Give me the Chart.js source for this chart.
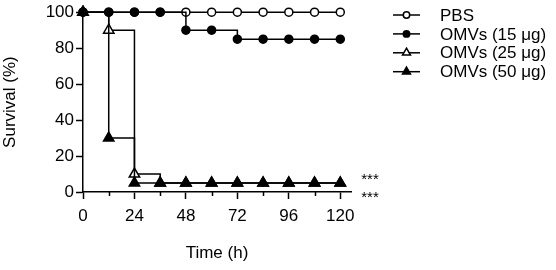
<!DOCTYPE html>
<html>
<head>
<meta charset="utf-8">
<script src="https://cdn.jsdelivr.net/npm/chart.js@4/dist/chart.umd.min.js"></script>
<style>
    html, body { margin: 0; padding: 0; background: #fff; }
    #wrap { width: 556px; height: 270px; }
</style>
</head>
<body>
<div id="wrap"><canvas id="myChart" width="556" height="270"></canvas></div>
<script>
const hours = [0, 12, 24, 36, 48, 60, 72, 84, 96, 108, 120];
const pbs = [100, 100, 100, 100, 100, 100, 100, 100, 100, 100, 100];
const omv15 = [100, 100, 100, 100, 90, 90, 85, 85, 85, 85, 85];
const omv25 = [100, 90, 10, 5, 5, 5, 5, 5, 5, 5, 5];
const omv50 = [100, 30, 5, 5, 5, 5, 5, 5, 5, 5, 5];
const seriesNames = ['PBS', 'OMVs (15 μg)', 'OMVs (25 μg)', 'OMVs (50 μg)'];
const yTicks = [0, 20, 40, 60, 80, 100];
const xLabelEvery = 24;
// levels where the *** marks sit
const starLevels = [10, 0];

const FONT = '"Liberation Sans", Arial, sans-serif';

function points(values) {
    return hours.map((h, i) => ({ x: h, y: values[i] }));
}

function series(label, values, style, fillColor, radius, order) {
    return {
        label: label,
        data: points(values),
        borderColor: '#000',
        borderWidth: 1.5,
        stepped: true,
        fill: false,
        pointStyle: style,
        pointRadius: radius,
        pointBackgroundColor: fillColor,
        pointBorderColor: '#000',
        pointBorderWidth: 1.5,
        clip: false,
        order: order
    };
}

// short ticks for the unlabelled hours, long ones for the labelled
const minorTicks = {
    id: 'minorTicks',
    afterDraw(chart) {
        const ctx = chart.ctx;
        const x = chart.scales.x;
        ctx.save();
        ctx.strokeStyle = '#000';
        ctx.lineWidth = 1.5;
        hours.forEach((h) => {
            if (h % xLabelEvery === 0) return;
            const px = Math.round(x.getPixelForValue(h)) + 0.5;
            ctx.beginPath();
            ctx.moveTo(px, x.top);
            ctx.lineTo(px, x.top + 4);
            ctx.stroke();
        });
        ctx.restore();
    }
};

const stars = {
    id: 'stars',
    afterDraw(chart) {
        const ctx = chart.ctx;
        const x = chart.scales.x;
        const y = chart.scales.y;
        ctx.save();
        ctx.fillStyle = '#000';
        ctx.font = '15px ' + FONT;
        ctx.textAlign = 'left';
        ctx.textBaseline = 'alphabetic';
        starLevels.forEach((v) => {
            ctx.fillText('***', x.getPixelForValue(120) + 21, y.getPixelForValue(v) + 9.5);
        });
        ctx.restore();
    }
};

const lineLegend = {
    id: 'lineLegend',
    afterDraw(chart) {
        const ctx = chart.ctx;
        const sizes = { circle: 3.2, triangle: 4.6 };
        ctx.save();
        chart.data.datasets.forEach((ds, i) => {
            const cy = 15 + i * 18.9;
            ctx.strokeStyle = '#000';
            ctx.lineWidth = 1.5;
            ctx.beginPath();
            ctx.moveTo(393, cy);
            ctx.lineTo(420, cy);
            ctx.stroke();
            ctx.fillStyle = ds.pointBackgroundColor;
            Chart.helpers.drawPoint(ctx, {
                pointStyle: ds.pointStyle,
                radius: sizes[ds.pointStyle],
                rotation: 0,
                borderWidth: 1.3
            }, 406.5, cy);
            ctx.fillStyle = '#000';
            ctx.font = '17px ' + FONT;
            ctx.textAlign = 'left';
            ctx.textBaseline = 'middle';
            ctx.fillText(ds.label, 440, cy + 1);
        });
        ctx.restore();
    }
};

const ctx = document.getElementById('myChart').getContext('2d');
const myChart = new Chart(ctx, {
    type: 'line',
    data: {
        datasets: [
            series(seriesNames[0], pbs, 'circle', '#fff', 4, 4),
            series(seriesNames[1], omv15, 'circle', '#000', 4, 3),
            series(seriesNames[2], omv25, 'triangle', '#fff', 6, 2),
            series(seriesNames[3], omv50, 'triangle', '#000', 6, 1)
        ]
    },
    options: {
        responsive: false,
        animation: false,
        devicePixelRatio: 1,
        events: [],
        layout: { padding: { left: 0, top: 12, right: 205, bottom: 0 } },
        plugins: {
            legend: { display: false },
            tooltip: { enabled: false }
        },
        scales: {
            x: {
                type: 'linear',
                min: 0,
                max: 125,
                afterBuildTicks: (s) => { s.ticks = hours.map((h) => ({ value: h })); },
                afterFit: (s) => { s.height = 78; },
                ticks: {
                    autoSkip: false,
                    maxRotation: 0,
                    padding: 7,
                    color: '#000',
                    font: { family: FONT, size: 17 },
                    callback: (v) => (v % xLabelEvery === 0 ? v : '')
                },
                grid: {
                    display: true,
                    drawOnChartArea: false,
                    drawTicks: true,
                    tickLength: 7,
                    tickWidth: 1.5,
                    tickColor: (c) => (c.tick && c.tick.value % xLabelEvery === 0 ? '#000' : 'rgba(0,0,0,0)')
                },
                border: { display: true, color: '#000', width: 1.5 },
                title: {
                    display: true,
                    text: 'Time (h)',
                    color: '#000',
                    font: { family: FONT, size: 17 },
                    padding: { top: 0, bottom: 6 }
                }
            },
            y: {
                min: 0,
                max: 100,
                afterBuildTicks: (s) => { s.ticks = yTicks.map((v) => ({ value: v })); },
                afterFit: (s) => { s.width = 83; },
                ticks: {
                    padding: 2,
                    color: '#000',
                    font: { family: FONT, size: 17 }
                },
                grid: {
                    display: true,
                    drawOnChartArea: false,
                    drawTicks: true,
                    tickLength: 7,
                    tickWidth: 1.5,
                    tickColor: '#000'
                },
                border: { display: true, color: '#000', width: 1.5 },
                title: {
                    display: true,
                    text: 'Survival (%)',
                    color: '#000',
                    font: { family: FONT, size: 17 },
                    padding: { top: 0, bottom: 0 }
                }
            }
        }
    },
    plugins: [minorTicks, stars, lineLegend]
});
</script>
</body>
</html>
